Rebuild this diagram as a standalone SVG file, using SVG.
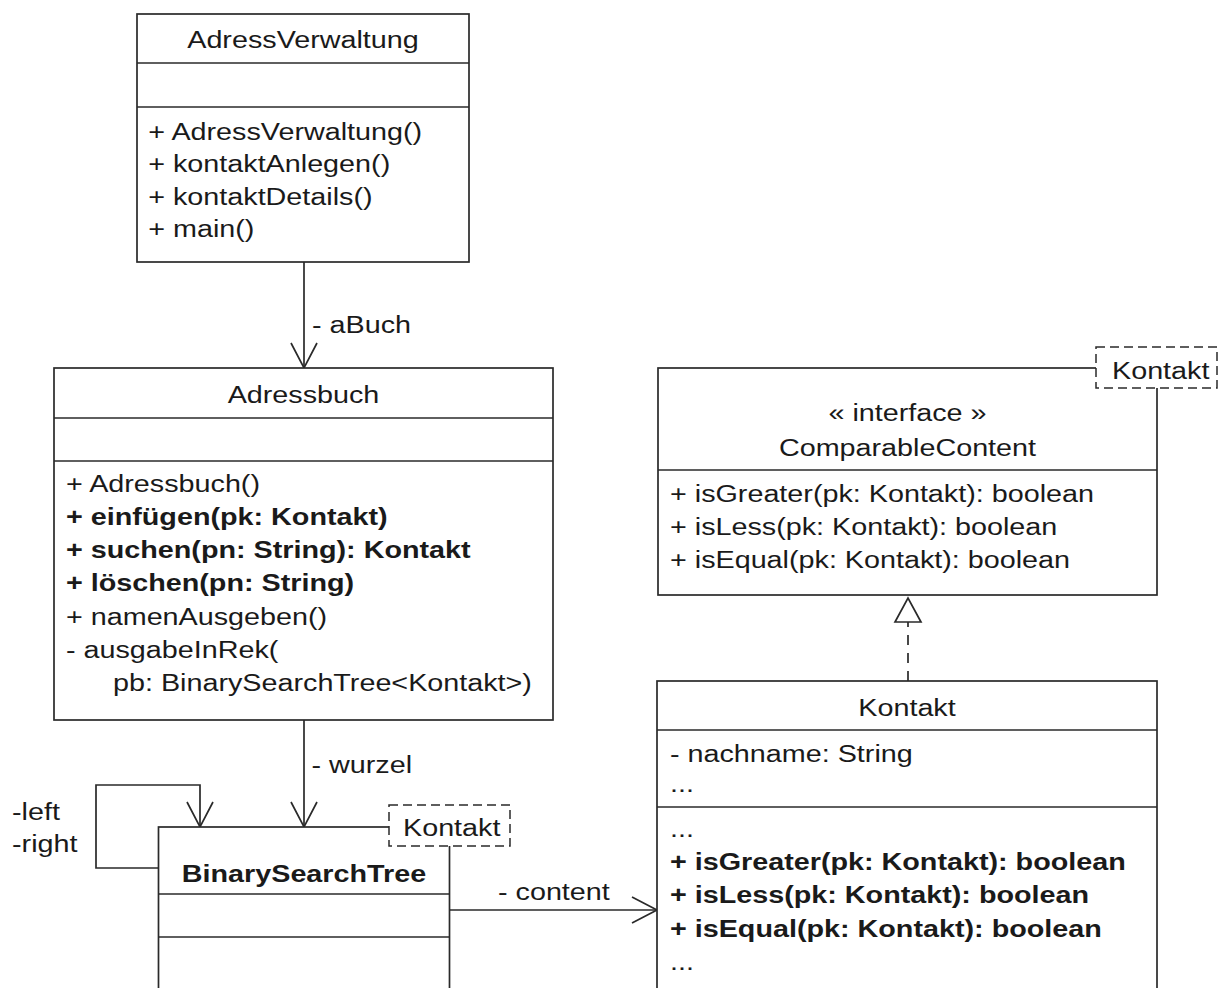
<svg xmlns="http://www.w3.org/2000/svg" width="1223" height="988" viewBox="0 0 1223 988">
<defs>
<style>
.box{fill:#fff;stroke:#2a2a2a;stroke-width:1.7}
.div{stroke:#2a2a2a;stroke-width:1.7}
.tmpl{fill:#fff;stroke:#2a2a2a;stroke-width:1.5;stroke-dasharray:9 5}
.t{font-family:"Liberation Sans",Arial,sans-serif;font-size:23px;fill:#1a1a1a}
.b{font-weight:bold}
.c{text-anchor:middle}
.edge{fill:none;stroke:#2a2a2a;stroke-width:1.7}
.dash{stroke-dasharray:10 8}
</style>
<marker id="open" markerUnits="userSpaceOnUse" markerWidth="30" markerHeight="30" refX="25" refY="13" orient="auto" overflow="visible"><path d="M0,0 L25,13 L0,26" fill="none" stroke="#2a2a2a" stroke-width="1.7"/></marker>
<marker id="tri" markerUnits="userSpaceOnUse" markerWidth="30" markerHeight="30" refX="0" refY="13" orient="auto" overflow="visible"><path d="M0,0 L24,13 L0,26 Z" fill="#fff" stroke="#2a2a2a" stroke-width="1.7"/></marker>
</defs>

<g id="connectors">
<path class="edge" d="M304,262 V368" marker-end="url(#open)"/>
<path class="edge" d="M304,720 V827" marker-end="url(#open)"/>
<path class="edge" d="M158.5,868 H96 V785 H200 V827" marker-end="url(#open)"/>
<path class="edge" d="M449.5,910 H657" marker-end="url(#open)"/>
<path class="edge dash" d="M908,681 V622" marker-end="url(#tri)"/>
<g class="t" transform="scale(1.25,1)">
<text x="249.6" y="333">- aBuch</text>
<text x="249.2" y="773">- wurzel</text>
<text x="9.6" y="820">-left</text>
<text x="9.6" y="852">-right</text>
<text x="398.4" y="900">- content</text>
</g>
</g>

<g id="adressverwaltung">
<rect class="box" x="137" y="14" width="332" height="248"/>
<line class="div" x1="137" y1="63" x2="469" y2="63"/>
<line class="div" x1="137" y1="107" x2="469" y2="107"/>
<g class="t" transform="scale(1.25,1)">
<text class="c" x="242.4" y="48">AdressVerwaltung</text>
<text x="118.6" y="140">+ AdressVerwaltung()</text>
<text x="118.6" y="172.5">+ kontaktAnlegen()</text>
<text x="118.6" y="205">+ kontaktDetails()</text>
<text x="118.6" y="237.5">+ main()</text>
</g>
</g>

<g id="adressbuch">
<rect class="box" x="54" y="368" width="499" height="352"/>
<line class="div" x1="54" y1="418" x2="553" y2="418"/>
<line class="div" x1="54" y1="461" x2="553" y2="461"/>
<g class="t" transform="scale(1.25,1)">
<text class="c" x="242.8" y="403">Adressbuch</text>
<text x="52.8" y="492">+ Adressbuch()</text>
<text class="b" x="52.8" y="525">+ einfügen(pk: Kontakt)</text>
<text class="b" x="52.8" y="558">+ suchen(pn: String): Kontakt</text>
<text class="b" x="52.8" y="591">+ löschen(pn: String)</text>
<text x="52.8" y="625">+ namenAusgeben()</text>
<text x="52.8" y="658">- ausgabeInRek(</text>
<text x="90.4" y="691">pb: BinarySearchTree&lt;Kontakt&gt;)</text>
</g>
</g>

<g id="comparablecontent">
<rect class="box" x="658" y="368" width="499" height="227"/>
<line class="div" x1="658" y1="470" x2="1157" y2="470"/>
<rect class="tmpl" x="1096" y="347" width="121" height="41"/>
<g class="t" transform="scale(1.25,1)">
<text x="889.6" y="379">Kontakt</text>
<text class="c" x="726" y="421">« interface »</text>
<text class="c" x="726" y="456">ComparableContent</text>
<text x="536" y="502">+ isGreater(pk: Kontakt): boolean</text>
<text x="536" y="535">+ isLess(pk: Kontakt): boolean</text>
<text x="536" y="568">+ isEqual(pk: Kontakt): boolean</text>
</g>
</g>

<g id="kontakt">
<rect class="box" x="657" y="681" width="500" height="330"/>
<line class="div" x1="657" y1="730" x2="1157" y2="730"/>
<line class="div" x1="657" y1="807" x2="1157" y2="807"/>
<g class="t" transform="scale(1.25,1)">
<text class="c" x="725.6" y="716">Kontakt</text>
<text x="536" y="762">- nachname: String</text>
<text x="536" y="792">...</text>
<text x="536" y="837">...</text>
<text class="b" x="536" y="870">+ isGreater(pk: Kontakt): boolean</text>
<text class="b" x="536" y="903">+ isLess(pk: Kontakt): boolean</text>
<text class="b" x="536" y="937">+ isEqual(pk: Kontakt): boolean</text>
<text x="536" y="970">...</text>
</g>
</g>

<g id="binarysearchtree">
<rect class="box" x="158.5" y="827" width="291" height="200"/>
<line class="div" x1="158.5" y1="894" x2="449.5" y2="894"/>
<line class="div" x1="158.5" y1="937" x2="449.5" y2="937"/>
<rect class="tmpl" x="389" y="805" width="121" height="41"/>
<g class="t" transform="scale(1.25,1)">
<text x="322.4" y="836">Kontakt</text>
<text class="c b" x="243.2" y="882">BinarySearchTree</text>
</g>
</g>
</svg>
